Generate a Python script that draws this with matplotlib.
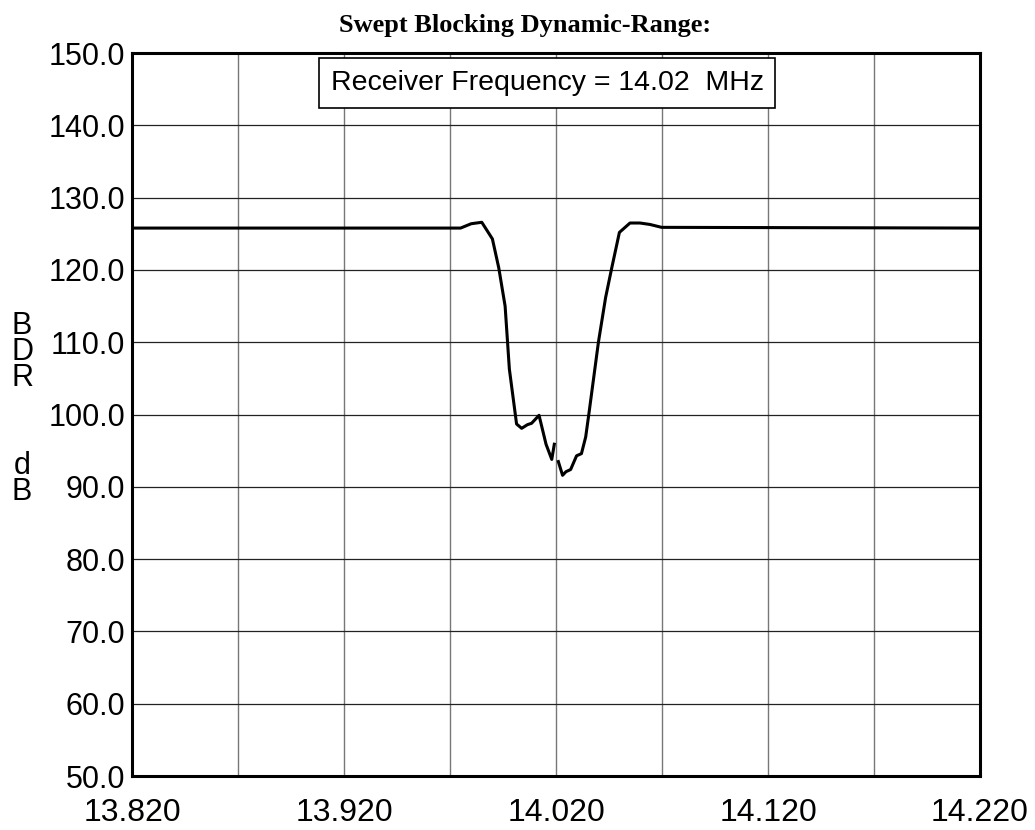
import matplotlib
matplotlib.use("Agg")
import matplotlib.pyplot as plt
import numpy as np

# sweep frequency (MHz) and blocking dynamic range (dB)
freq = [13.820, 13.975, 13.980, 13.985, 13.990, 13.993, 13.996, 13.998, 14.0014,
        14.0038, 14.0065, 14.0085, 14.012, 14.0153, 14.018, 14.0192, np.nan,
        14.0211, 14.0231, 14.0247, 14.0269, 14.0297, 14.032, 14.034, 14.0356,
        14.040, 14.0434, 14.0463, 14.0499, 14.0549, 14.0596, 14.0643, 14.0698, 14.220]
bdr = [125.8, 125.8, 126.4, 126.6, 124.3, 120.3, 115.0, 106.3, 98.7,
       98.1, 98.6, 98.8, 99.9, 95.9, 93.8, 95.9, np.nan,
       93.5, 91.6, 92.1, 92.4, 94.3, 94.6, 96.9, 100.3,
       110.0, 116.2, 120.3, 125.2, 126.5, 126.5, 126.3, 125.9, 125.8]

x_ticks = [13.82, 13.92, 14.02, 14.12, 14.22]
x_minor = [13.87, 13.97, 14.07, 14.17]
y_ticks = [50, 60, 70, 80, 90, 100, 110, 120, 130, 140, 150]

plt.rcParams['font.family'] = ['Liberation Sans', 'DejaVu Sans']

fig = plt.figure(figsize=(10.35, 8.3), dpi=100)
ax = fig.add_axes([0.1275, 0.065, 0.8194, 0.871])

ax.plot(freq, bdr, color='black', linewidth=2.2)

ax.set_xlim(13.82, 14.22)
ax.set_ylim(50, 150)
ax.set_xticks(x_ticks)
ax.set_xticks(x_minor, minor=True)
ax.set_yticks(y_ticks)
ax.set_xticklabels([f"{v:.3f}" for v in x_ticks])
ax.set_yticklabels([f"{v:.1f}" for v in y_ticks])
ax.tick_params(axis='both', which='both', length=0, labelsize=22)
ax.tick_params(axis='x', pad=16, labelsize=23)
ax.tick_params(axis='y', pad=5)

ax.grid(True, axis='x', which='both', color='#777777', linewidth=1.0)
ax.grid(True, axis='y', which='major', color='#222222', linewidth=0.9)
ax.set_axisbelow(True)
for s in ax.spines.values():
    s.set_linewidth(2.2)

fig.text(0.507, 0.969, "Swept Blocking Dynamic-Range:", ha='center', va='center',
         fontsize=19, fontweight='bold', family=['Liberation Serif', 'DejaVu Serif'])

ax.text(0.4894, 0.959, "Receiver Frequency = 14.02  MHz", transform=ax.transAxes,
        ha='center', va='center', fontsize=20.5,
        bbox=dict(boxstyle='square,pad=0.42', facecolor='white', edgecolor='black', linewidth=1.2))

fig.text(22 / 1035, 1 - 352 / 830, "B\nD\nR", ha='center', va='center', fontsize=22, linespacing=0.82)
fig.text(22 / 1035, 1 - 479 / 830, "d\nB", ha='center', va='center', fontsize=22, linespacing=0.82)

fig.savefig("out.png", dpi=100)
